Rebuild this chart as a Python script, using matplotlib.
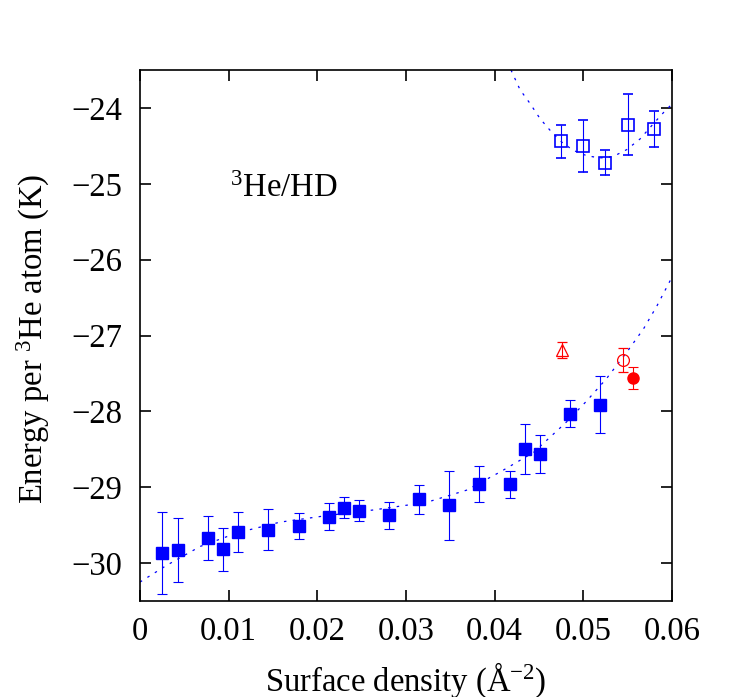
import matplotlib
matplotlib.use("Agg")
import matplotlib.pyplot as plt

plt.rcParams['font.family'] = ['Liberation Serif', 'DejaVu Serif']
plt.rcParams['mathtext.fontset'] = 'custom'
plt.rcParams['mathtext.rm'] = 'Liberation Serif'
plt.rcParams['mathtext.it'] = 'Liberation Serif:italic'

# filled squares (liquid 3He on HD)
sq_x = [0.00248, 0.00425, 0.00767, 0.00936, 0.01105, 0.01447, 0.0179, 0.02128,
        0.02297, 0.02466, 0.02811, 0.0315, 0.03489, 0.03827, 0.04173, 0.04342,
        0.04511, 0.04852, 0.05191]
sq_y = [-29.87, -29.83, -29.67, -29.82, -29.59, -29.56, -29.51, -29.39,
        -29.27, -29.31, -29.37, -29.16, -29.24, -28.96, -28.96, -28.50,
        -28.56, -28.03, -27.91]
sq_err = [0.54, 0.42, 0.29, 0.28, 0.26, 0.27, 0.17, 0.18,
          0.14, 0.14, 0.18, 0.19, 0.46, 0.24, 0.18, 0.33,
          0.25, 0.18, 0.37]

# open squares
osq_x = [0.04751, 0.04999, 0.05248, 0.05499, 0.05792]
osq_y = [-24.44, -24.50, -24.72, -24.22, -24.28]
osq_err = [0.22, 0.34, 0.16, 0.40, 0.24]

# red points
tri_x, tri_y, tri_err = [0.04765], [-27.19], [0.11]
oc_x, oc_y, oc_err = [0.05447], [-27.32], [0.16]
fc_x, fc_y, fc_err = [0.0556], [-27.56], [0.14]

# fit curves
fit1_x = [0.0, 0.003, 0.0068, 0.011, 0.0158, 0.021, 0.0263, 0.0323, 0.0368,
          0.0406, 0.0444, 0.0481, 0.0504, 0.0526, 0.0549, 0.0568, 0.0583, 0.06]
fit1_y = [-30.25, -30.03, -29.78, -29.60, -29.46, -29.375, -29.30, -29.20, -29.04,
          -28.80, -28.54, -28.14, -27.86, -27.57, -27.22, -26.91, -26.61, -26.23]
fit2_x = [0.04184, 0.04286, 0.04398, 0.04511, 0.04643, 0.04756, 0.04887, 0.05038,
          0.05188, 0.05338, 0.05489, 0.05639, 0.05789, 0.05921, 0.06]
fit2_y = [-23.50, -23.76, -23.94, -24.14, -24.32, -24.45, -24.56, -24.63,
          -24.66, -24.64, -24.55, -24.41, -24.21, -24.04, -23.95]

fig = plt.figure(figsize=(7.47, 6.97), dpi=100)
ax = fig.add_axes([0.1874, 0.1377, 0.7122, 0.7619])

blue = '#0000ff'
red = '#ff0000'
ax.plot(fit1_x, fit1_y, color=blue, lw=0.9, ls=(0, (2, 5)))
ax.plot(fit2_x, fit2_y, color=blue, lw=0.9, ls=(0, (2, 5)))

eb = dict(elinewidth=0.8, capsize=3.3, capthick=0.8, ls='none')
ax.errorbar(sq_x, sq_y, yerr=sq_err, fmt='s', color=blue, ms=8.5, **eb)
ax.errorbar(osq_x, osq_y, yerr=osq_err, fmt='s', color=blue, mfc='none',
            ms=8.5, mew=1.2, **eb)
ax.errorbar(tri_x, tri_y, yerr=tri_err, fmt='^', color=red, mfc='none',
            ms=8, mew=0.9, **eb)
ax.errorbar(oc_x, oc_y, yerr=oc_err, fmt='o', color=red, mfc='none',
            ms=8.5, mew=0.9, **eb)
ax.errorbar(fc_x, fc_y, yerr=fc_err, fmt='o', color=red, ms=8, **eb)

ax.set_xlim(0, 0.06)
ax.set_ylim(-30.5, -23.5)
ax.set_xticks([0, 0.01, 0.02, 0.03, 0.04, 0.05, 0.06])
ax.set_xticklabels(['0', '0.01', '0.02', '0.03', '0.04', '0.05', '0.06'])
ax.set_yticks([-30, -29, -28, -27, -26, -25, -24])
ax.tick_params(direction='in', top=True, right=True, length=8, width=1.2,
               labelsize=23.5)
ax.tick_params(axis='x', pad=11)
ax.tick_params(axis='y', pad=13)
for s in ax.spines.values():
    s.set_linewidth(1.2)

ax.text(0.01015, -25.17, r'$^{3}$He/HD', fontsize=23.5)
ax.set_xlabel(r'Surface density (Å$^{-2}$)', fontsize=23.5)
ax.set_ylabel(r'Energy per $^{3}$He atom (K)', fontsize=23.5)
ax.xaxis.set_label_coords(0.5, -0.113)
ax.yaxis.set_label_coords(-0.166, 0.493)

fig.savefig('out.png', dpi=100)
